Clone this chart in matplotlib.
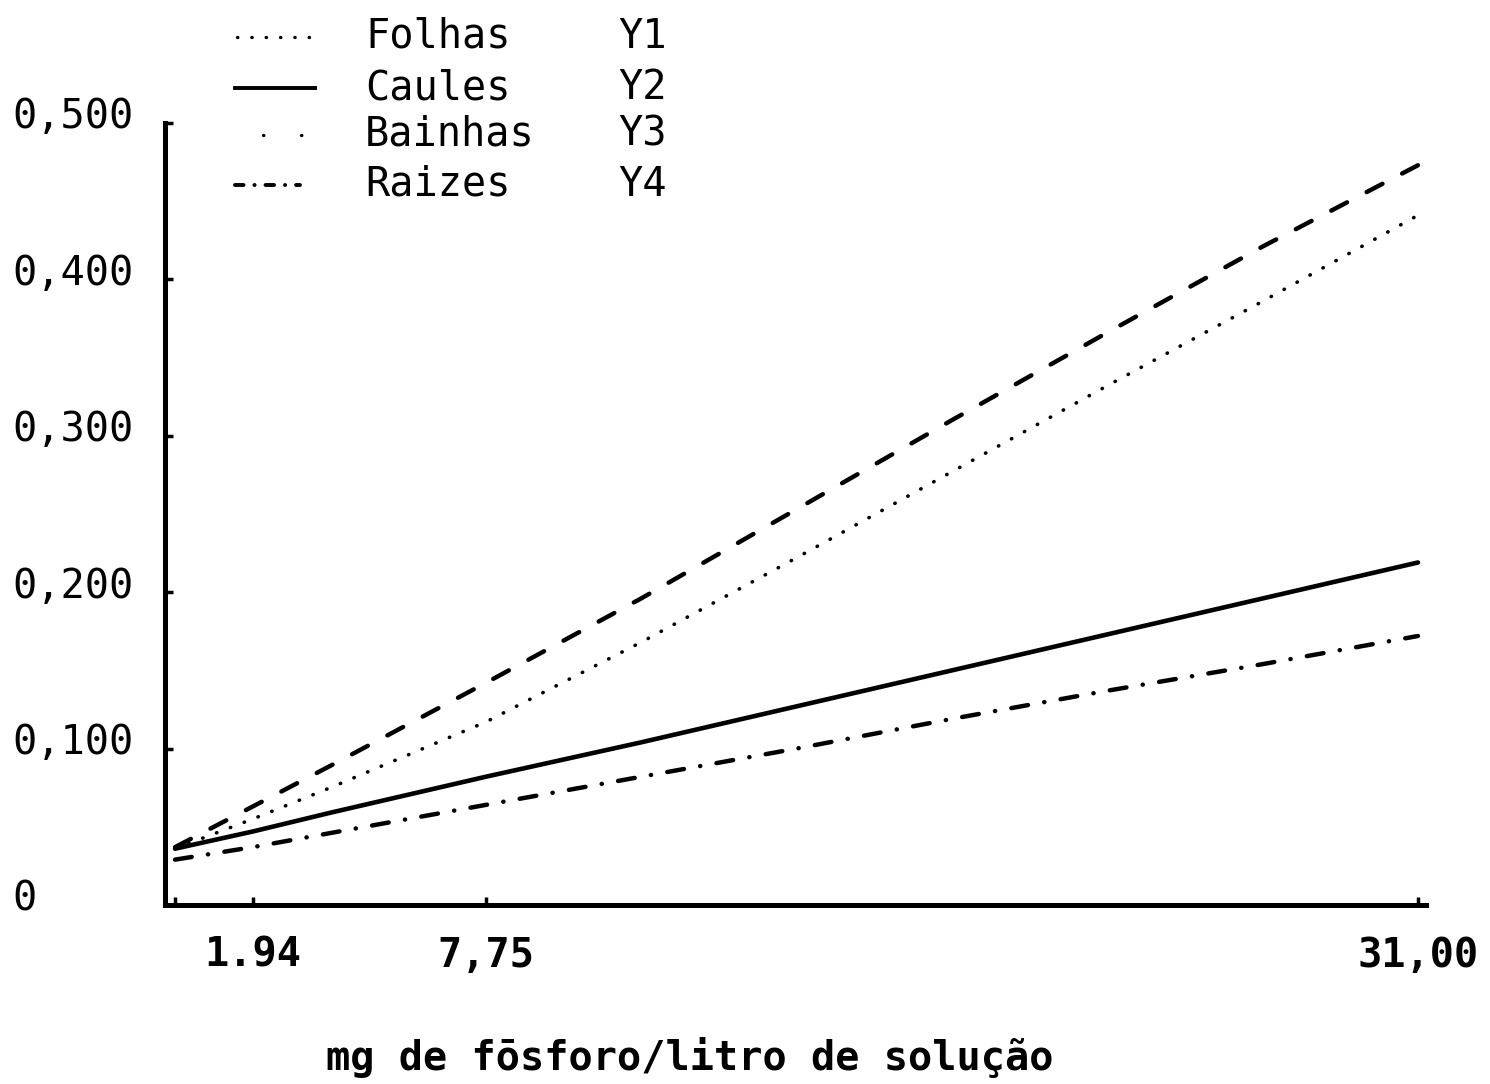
import matplotlib
matplotlib.use("Agg")
import matplotlib.pyplot as plt
import matplotlib.transforms as mtransforms
from matplotlib.lines import Line2D

plt.rcParams['font.family'] = ['DejaVu Sans Mono', 'DejaVu Sans']

# concentrações (mg de fósforo / litro)
x = [0, 1.94, 3.875, 7.75, 11.625, 15.5, 19.375, 23.25, 27.125, 31.0]

# curvas
folhas = [0.037, 0.063, 0.089, 0.142, 0.196, 0.253, 0.310, 0.366, 0.421, 0.473]
caules = [0.036, 0.047, 0.059, 0.082, 0.104, 0.127, 0.150, 0.173, 0.196, 0.219]
bainhas = [0.036, 0.055, 0.075, 0.117, 0.168, 0.222, 0.277, 0.332, 0.386, 0.441]
raizes = [0.029, 0.037, 0.046, 0.064, 0.082, 0.100, 0.119, 0.137, 0.154, 0.172]

xticks = [0, 1.94, 7.75, 31.0]
xtick_labels = ['', '1.94', '7,75', '31,00']
yticks = [0, 0.1, 0.2, 0.3, 0.4, 0.5]
ytick_labels = ['0', '0,100', '0,200', '0,300', '0,400', '0,500']

legend_names = ['Folhas', 'Caules', 'Bainhas', 'Raizes']
legend_codes = ['Y1', 'Y2', 'Y3', 'Y4']

W, H = 1490, 1084
fig = plt.figure(figsize=(W / 100, H / 100), dpi=100)
ax = fig.add_axes([165 / W, (H - 905) / H, (1426 - 165) / W, (905 - 123) / H])

ax.plot(x, folhas, color='black', lw=3.2, linestyle=(0, (4, 5)),
        dash_capstyle='round', solid_capstyle='round')
ax.plot(x, bainhas, color='black', lw=2.6, linestyle=(0, (0.1, 4)),
        dash_capstyle='round')
ax.plot(x, caules, color='black', lw=3.3, solid_capstyle='round')
ax.plot(x, raizes, color='black', lw=3.2, linestyle=(0, (3.8, 3.7, 0.05, 3.7)),
        dash_capstyle='round')

ax.set_xlim(-0.25, 31.2)
ax.set_ylim(0, 0.5)

for side in ['top', 'right']:
    ax.spines[side].set_visible(False)
for side in ['left', 'bottom']:
    ax.spines[side].set_linewidth(3.6)

ax.set_xticks(xticks, labels=xtick_labels)
ax.set_yticks(yticks, labels=ytick_labels)
ax.tick_params(axis='both', direction='in', length=6, width=2.5)
ax.tick_params(axis='y', pad=110, labelsize=29)
ax.tick_params(axis='x', pad=22, labelsize=29)
for lab in ax.get_xticklabels():
    lab.set_fontweight('bold')

# rótulos do eixo y alinhados à esquerda e um pouco acima das marcas
offset = mtransforms.ScaledTranslation(0, 10 / 100, fig.dpi_scale_trans)
for lab in ax.get_yticklabels():
    lab.set_horizontalalignment('left')
    lab.set_transform(lab.get_transform() + offset)

fig.text(690 / W, 1 - 1057 / H, 'mg de fōsforo/litro de solução',
         ha='center', va='center', fontsize=29, fontweight='bold')

# legenda desenhada à mão, como no original
rows = [37, 88, 135, 185]
handle_styles = [
    dict(xs=(237, 315), lw=2.4, ls=(0, (0.1, 4.2))),
    dict(xs=(235, 315), lw=2.8, ls='-'),
    dict(xs=(263, 318), lw=2.4, ls=(0, (0.1, 11.3))),
    dict(xs=(235, 300), lw=2.8, ls=(0, (2.2, 2.8, 0.05, 2.8))),
]
for row, st, name, code in zip(rows, handle_styles, legend_names, legend_codes):
    yf = 1 - row / H
    fig.add_artist(Line2D([st['xs'][0] / W, st['xs'][1] / W], [yf, yf],
                          transform=fig.transFigure, color='black',
                          lw=st['lw'], linestyle=st['ls'],
                          dash_capstyle='round'))
    fig.text(365 / W, yf, name, ha='left', va='center', fontsize=29)
    fig.text(618 / W, yf, code, ha='left', va='center', fontsize=29)

fig.savefig('out.png', dpi=100, facecolor='white')
